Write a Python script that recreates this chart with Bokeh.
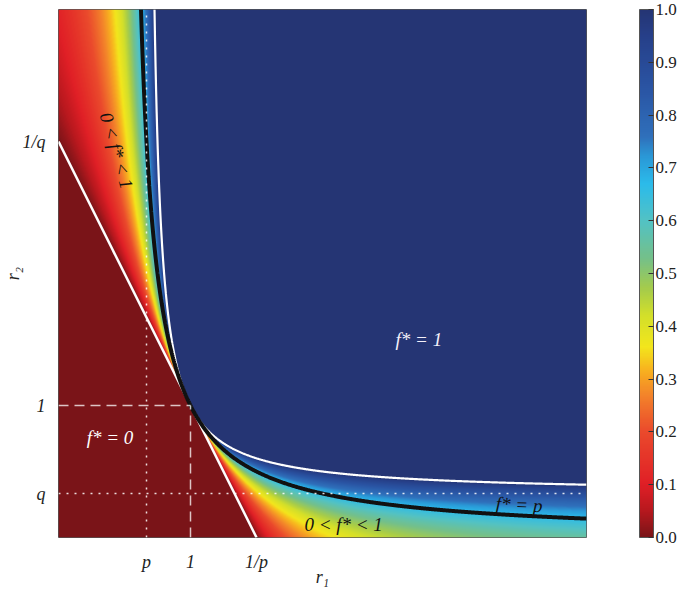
import numpy as np
from bokeh.plotting import figure
from bokeh.models import (LinearColorMapper, ColorBar, FixedTicker, Label,
                          CustomJSTickFormatter, PrintfTickFormatter)
from bokeh.embed import file_html
from bokeh.resources import INLINE

# ---- parameters / data ----
P = 2.0 / 3.0          # probability of outcome r1
Q = 1.0 - P            # probability of outcome r2
R_MAX = 4.0            # axis extent for r1 and r2
GRID_N = 528

x_ticks = [P, 1.0, 1.0 / P]
x_tick_labels = ["p", "1", "1/p"]
y_ticks = [Q, 1.0, 1.0 / Q]
y_tick_labels = ["q", "1", "1/q"]
cbar_ticks = [0.0, 0.1, 0.2, 0.3, 0.4, 0.5, 0.6, 0.7, 0.8, 0.9, 1.0]

# colormap anchor points (value, colour)
cmap_pos = [0.00, 0.05, 0.10, 0.20, 0.27, 0.32, 0.36, 0.42, 0.47, 0.53,
            0.60, 0.67, 0.72, 0.76, 0.85, 0.95, 1.00]
cmap_col = ["#7a1418", "#b8181e", "#e01f26", "#ea4a2c", "#f3842a", "#f8b51e",
            "#f3e61c", "#d3df2a", "#a6cc4a", "#74c08a", "#52c2c4", "#2bbbea",
            "#2a9ad8", "#2f70bb", "#2a55a4", "#26408a", "#253574"]

region_texts = ["f* = 1", "f* = 0", "0 < f* < 1", "0 < f* < 1", "f* = p"]
axis_titles = ["r\u2081", "r\u2082"]

# ---- build palette ----
def hex2rgb(h):
    h = h.lstrip("#")
    return [int(h[i:i + 2], 16) for i in (0, 2, 4)]

rgb = np.array([hex2rgb(c) for c in cmap_col], dtype=float)
tt = np.linspace(0, 1, 256)
palette = []
for t in tt:
    r = np.interp(t, cmap_pos, rgb[:, 0])
    g = np.interp(t, cmap_pos, rgb[:, 1])
    b = np.interp(t, cmap_pos, rgb[:, 2])
    palette.append("#%02x%02x%02x" % (int(round(r)), int(round(g)), int(round(b))))

# ---- optimal fraction f* over the (r1, r2) grid ----
rr = (np.arange(GRID_N) + 0.5) * R_MAX / GRID_N
R1, R2 = np.meshgrid(rr, rr)
A = R1 - 1.0
B = R2 - 1.0
D0 = P * A + Q * B
D1 = 1.0 - P / R1 - Q / R2
with np.errstate(divide="ignore", invalid="ignore"):
    F = -D0 / (A * B)
F = np.where(D0 <= 0, 0.0, np.where(D1 >= 0, 1.0, F))
F = np.clip(np.nan_to_num(F, nan=1.0), 0.0, 1.0).astype(np.float32)

mapper = LinearColorMapper(palette=palette, low=0.0, high=1.0)

FONT = "Liberation Serif"
FRAME = 528
TOP = 9

p = figure(x_range=(0, R_MAX), y_range=(0, R_MAX),
           frame_width=FRAME, frame_height=FRAME,
           min_border_left=57, min_border_top=TOP,
           min_border_bottom=50,
           min_border_right=93,
           output_backend="svg", toolbar_location=None)

p.image(image=[F], x=0, y=0, dw=R_MAX, dh=R_MAX, color_mapper=mapper)

# zero-growth boundary  p r1 + q r2 = 1
p.line([0, 1.0 / P], [1.0 / Q, 0], line_color="white", line_width=2.5)

# f* = 1 boundary  p/r1 + q/r2 = 1
r1_top = P / (1.0 - Q / R_MAX)
c1 = np.linspace(r1_top, R_MAX, 800)
p.line(c1, Q / (1.0 - P / c1), line_color="white", line_width=2.2)

# f* = p curve (upper branch parameterised by b, lower by a)
b_up = np.linspace(R_MAX - 1.0, 0.0, 600)
a_up = -b_up * Q / (P * (1.0 + b_up))
a_lo = np.linspace(0.0, R_MAX - 1.0, 600)
b_lo = -P * a_lo / (Q + P * a_lo)
p.line(1.0 + np.concatenate([a_up, a_lo]), 1.0 + np.concatenate([b_up, b_lo]),
       line_color="#111111", line_width=4)

# guide lines
p.line([0, 1], [1, 1], line_color="white", line_alpha=0.75, line_width=1.5, line_dash="10 6")
p.line([1, 1], [0, 1], line_color="white", line_alpha=0.75, line_width=1.5, line_dash="10 6")
p.line([P, P], [0, R_MAX], line_color="white", line_alpha=0.85, line_width=1.5, line_dash="2 6")
p.line([0, R_MAX], [Q, Q], line_color="white", line_alpha=0.85, line_width=1.5, line_dash="2 6")

# region labels
lab_specs = [
    (region_texts[0], 2.73, 1.50, 0.0, "#f4f0fa"),
    (region_texts[1], 0.39, 0.76, 0.0, "#ffffff"),
    (region_texts[2], 2.16, 0.10, 0.0, "#111111"),
    (region_texts[3], 0.44, 2.93, -1.29, "#111111"),
    (region_texts[4], 3.49, 0.25, -0.05, "#111111"),
]
for txt, lx, ly, ang, col in lab_specs:
    p.add_layout(Label(x=lx, y=ly, text=txt, angle=ang, text_align="center",
                       text_baseline="middle", text_font=FONT,
                       text_font_style="italic", text_font_size="19px",
                       text_color=col))

# axes
p.xaxis.ticker = FixedTicker(ticks=x_ticks)
p.xaxis.formatter = CustomJSTickFormatter(args=dict(labels=x_tick_labels),
                                          code="return labels[index]")
p.yaxis.ticker = FixedTicker(ticks=y_ticks)
p.yaxis.formatter = CustomJSTickFormatter(args=dict(labels=y_tick_labels),
                                          code="return labels[index]")
for ax in (p.xaxis, p.yaxis):
    ax.major_tick_line_color = None
    ax.minor_tick_line_color = None
    ax.axis_line_color = None
    ax.major_label_text_font = FONT
    ax.major_label_text_font_style = "italic"
    ax.major_label_text_font_size = "18px"
    ax.major_label_text_color = "#222222"
    ax.axis_label_text_font = FONT
    ax.axis_label_text_font_style = "italic"
    ax.axis_label_text_font_size = "18px"
    ax.axis_label_text_color = "#222222"
p.xaxis.axis_label = axis_titles[0]
p.yaxis.axis_label = axis_titles[1]
p.xaxis.major_label_standoff = 8
p.xaxis.axis_label_standoff = -8
p.yaxis.major_label_standoff = 7
p.yaxis.axis_label_standoff = -4
p.xgrid.visible = False
p.ygrid.visible = False
p.outline_line_color = "#555555"
p.outline_line_width = 1

cb = ColorBar(color_mapper=mapper, width=14, height=FRAME,
              ticker=FixedTicker(ticks=cbar_ticks),
              formatter=PrintfTickFormatter(format="%.1f"),
              major_label_text_font=FONT, major_label_text_font_size="17px",
              major_label_text_color="#222222", label_standoff=2,
              major_tick_in=5, major_tick_out=0, major_tick_line_color="#333333",
              bar_line_color="#555555", border_line_color=None,
              background_fill_color=None, padding=0, margin=0,
              location=(53, 0))
p.add_layout(cb, "right")

open("out.html", "w").write(file_html(p, INLINE))
